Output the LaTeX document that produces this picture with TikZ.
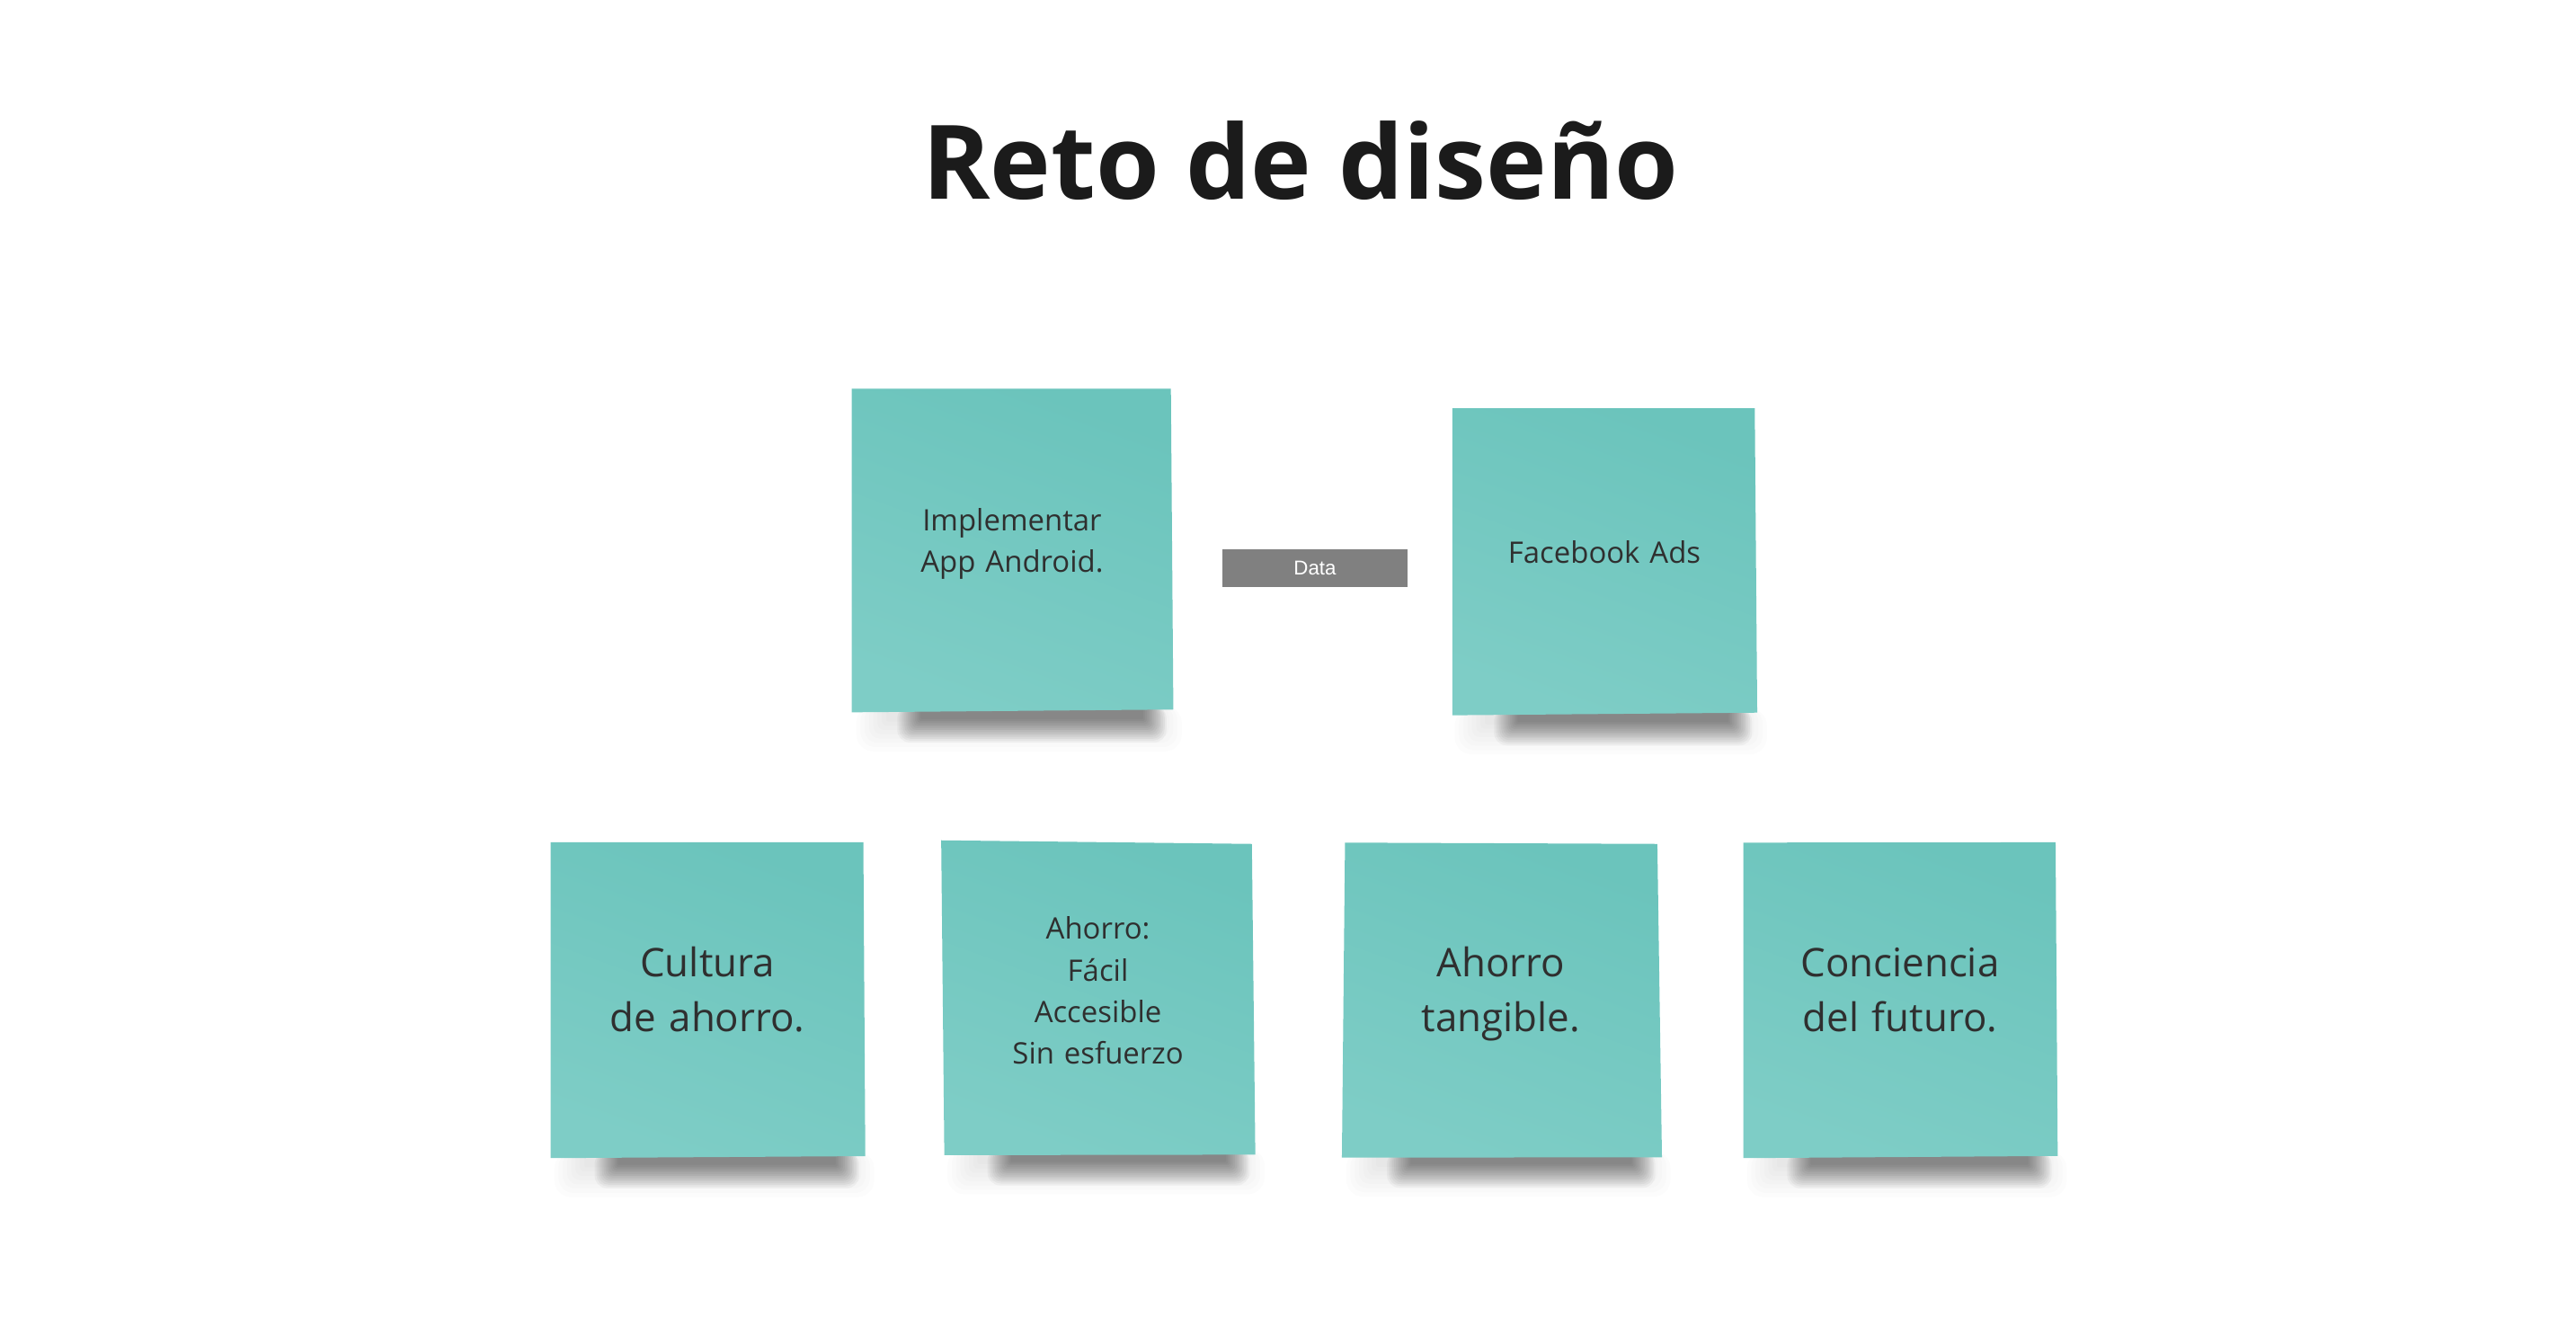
\documentclass[tikz,border=0pt]{standalone}
\usepackage{fontspec}
\setmainfont{Open Sans}
\newfontfamily\arialfont{Liberation Sans}
\definecolor{stickytop}{HTML}{6BC4BC}
\definecolor{stickybot}{HTML}{7ECDC6}
\definecolor{txt}{HTML}{2F2F2F}
\definecolor{ttl}{HTML}{1B1B1B}
\definecolor{databg}{HTML}{808080}
% layered soft shadow: #1 left, #2 right, #3 bottom y (down), #4 layers, #5 step, #6 opacity, #7 core depth
\newcommand\shadowblur[7]{%
  \foreach \i in {1,...,#4}{%
    \pgfmathsetmacro\rc{\i*#5*0.25}%
    \fill[black,opacity=#6,rounded corners=\rc pt]
      (#1-\i*#5,-#3+4) rectangle (#2+\i*#5,-#3-#7-\i*#5);
  }%
}
% #1..#8: TLx TLy TRx TRy BRx BRy BLx BLy (y measured downwards)
\newcommand\stickynote[8]{%
  \pgfmathsetmacro\stkw{#5-#7}%
  \pgfmathsetmacro\shB{max(#6,#8)}%
  % broad soft haze
  \pgfmathsetmacro\hL{#7+0.12*\stkw}%
  \pgfmathsetmacro\hR{#5-0.08*\stkw}%
  \shadowblur{\hL}{\hR}{\shB}{8}{2.6}{0.012}{3}%
  % dark band
  \pgfmathsetmacro\dL{#7+0.22*\stkw}%
  \pgfmathsetmacro\dR{#5-0.10*\stkw}%
  \shadowblur{\dL}{\dR}{\shB}{14}{1.1}{0.034}{3}%
  \shade[top color=stickytop,bottom color=stickybot,shading angle=-20]
    (#1,-#2) -- (#3,-#4) -- (#5,-#6) -- (#7,-#8) -- cycle;
}
\tikzset{
  smalltext/.style={font=\fontsize{9}{12.6}\selectfont, text=txt, align=center,
    text width=100pt, inner sep=0pt, anchor=base},
  largetext/.style={font=\fontsize{12}{16.6}\selectfont, text=txt, align=center,
    text width=100pt, inner sep=0pt, anchor=base},
  titletext/.style={font=\bfseries\fontsize{31.3}{36}\selectfont, text=ttl,
    inner sep=0pt, anchor=base},
  databox/.style={fill=databg, minimum width=56.5pt, minimum height=11.5pt,
    inner sep=0pt, text=white, font=\arialfont\fontsize{6.1}{7}\selectfont}
}
\begin{document}
\begin{tikzpicture}[x=0.5pt,y=0.5pt]
\useasboundingbox (0,0) rectangle (1568,-812);
\fill[white] (0,0) rectangle (1568,-812);

\node[titletext] (title) at (791.5,-121.1) {Reto de diseño};

\stickynote{518.5}{236.5}{712.7}{236.5}{714.2}{431.8}{518.5}{433.5}
\stickynote{884}{248.4}{1068.1}{248.4}{1069.6}{433.7}{884}{435.3}
\stickynote{335.2}{512.6}{525.5}{512.6}{526.7}{703.6}{335.2}{704.8}
\stickynote{572.9}{511.4}{762}{513.6}{764.1}{702.7}{574.8}{703}
\stickynote{818.7}{512.8}{1008.8}{513.6}{1011.6}{704.3}{816.8}{704.5}
\stickynote{1061.2}{512.8}{1251.2}{512.6}{1252.5}{703.5}{1061.2}{704.8}

\node[smalltext] (impl) at (616,-323.2) {Implementar\\App Android.};
\node[smalltext] (fb) at (976.6,-342.5) {Facebook Ads};
\node[databox] (data) at (800.4,-345.8) {Data};

\node[largetext] (cultura) at (430.6,-594.5) {Cultura\\de ahorro.};
\node[smalltext] (ahorro) at (668.3,-571.7) {Ahorro:\\Fácil\\Accesible\\Sin esfuerzo};
\node[largetext] (tangible) at (913.5,-594.5) {Ahorro\\tangible.};
\node[largetext] (conciencia) at (1156.5,-594.5) {Conciencia\\del futuro.};
\end{tikzpicture}
\end{document}
